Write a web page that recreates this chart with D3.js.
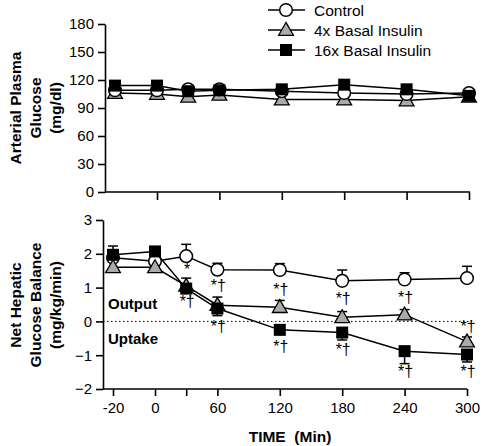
<!DOCTYPE html>
<html><head><meta charset="utf-8">
<script src="https://cdn.jsdelivr.net/npm/d3@7"></script>
<style>body{margin:0;background:#fff}svg{display:block;font-family:"Liberation Sans",Arial,sans-serif}</style>
</head><body><svg id="c" width="482" height="446"></svg>
<script>
const times = [-20, 0, 30, 60, 120, 180, 240, 300];
const seriesNames = ["Control", "4x Basal Insulin", "16x Basal Insulin"];
// Arterial plasma glucose (mg/dl)
const glucoseControl = [109, 109, 110, 110, 108, 106, 105, 106];
const glucose4x      = [106, 105, 102, 104, 99, 99, 98, 102];
const glucose16x     = [114, 114, 108, 109, 110, 115, 110, 103];
// Net hepatic glucose balance (mg/kg/min)
const nhgbControl = [1.88, 1.78, 1.93, 1.53, 1.52, 1.20, 1.24, 1.28];
const nhgb4x      = [1.60, 1.60, 1.05, 0.48, 0.42, 0.12, 0.20, -0.60];
const nhgb16x     = [1.97, 2.07, 0.97, 0.38, -0.25, -0.33, -0.88, -0.98];
// error bars (SEM): control & 4x drawn upward, 16x drawn downward
const semControl = [0.35, 0.0, 0.35, 0.19, 0.19, 0.32, 0.20, 0.35];
const sem4x      = [0.0, 0.0, 0.23, 0.24, 0.20, 0.17, 0.15, 0.14];
const sem16x     = [0.0, 0.0, 0.0, 0.21, 0.05, 0.22, 0.37, 0.22];
const topTicks = [0, 30, 60, 90, 120, 150, 180];
const bottomTicks = [-2, -1, 0, 1, 2, 3];
const xTickValues = [-20, 0, 30, 60, 120, 180, 240, 300];
const xTickLabels = ["-20", "0", "", "60", "120", "180", "240", "300"];
const annotations = [
  {t: 30, v: 1.53, s: "*"}, {t: 30, v: 0.59, s: "*†"},
  {t: 60, v: 1.05, s: "*†"}, {t: 60, v: -0.15, s: "*†"},
  {t: 120, v: 0.94, s: "*†"}, {t: 120, v: -0.74, s: "*†"},
  {t: 180, v: 0.69, s: "*†"}, {t: 180, v: -0.82, s: "*†"},
  {t: 240, v: 0.72, s: "*†"}, {t: 240, v: -1.48, s: "*†"},
  {t: 300, v: -0.15, s: "*†"}, {t: 300, v: -1.48, s: "*†"}
];

const svg = d3.select("#c");
const xTop = d3.scaleLinear().domain([-20, 0, 300]).range([115, 157, 469]);
const xBot = d3.scaleLinear().domain([-20, 0, 300]).range([113, 155, 467]);
const yTop = d3.scaleLinear().domain([0, 180]).range([192, 24]);
const yBot = d3.scaleLinear().domain([-2, 3]).range([389, 220]);

const tickFont = "15px";
function styleAxis(g) {
  g.selectAll("path,line").attr("stroke", "#000").attr("stroke-width", 1.6);
  g.selectAll("text").attr("font-size", tickFont).attr("fill", "#000");
}

// Top panel axes
svg.append("g").attr("transform", "translate(105,0)")
  .call(d3.axisLeft(yTop).tickValues(topTicks).tickSize(7).tickSizeOuter(0).tickPadding(4).tickFormat(d3.format("d")))
  .call(styleAxis);
svg.append("g").attr("transform", "translate(0,192)")
  .call(d3.axisBottom(xTop).tickValues([0, 60, 120, 180, 240, 300]).tickSize(8).tickSizeOuter(0).tickFormat(""))
  .call(styleAxis)
  .select("path.domain").attr("d", "M105,0H470");

// Bottom panel axes
svg.append("g").attr("transform", "translate(103,0)")
  .call(d3.axisLeft(yBot).tickValues(bottomTicks).tickSize(7).tickSizeOuter(0).tickPadding(4).tickFormat(d3.format("d")))
  .call(styleAxis);
const bx = svg.append("g").attr("transform", "translate(0,389)")
  .call(d3.axisBottom(xBot).tickValues(xTickValues).tickSize(7).tickSizeOuter(0).tickPadding(6)
    .tickFormat((d, i) => xTickLabels[i]))
  .call(styleAxis);
bx.select("path.domain").attr("d", "M103,0H467");

// zero dotted line
svg.append("line").attr("x1", xBot(-20) - 10).attr("x2", xBot(300) + 4)
  .attr("y1", yBot(0)).attr("y2", yBot(0))
  .attr("stroke", "#000").attr("stroke-width", 1).attr("stroke-dasharray", "1.5,2.5");

function drawMarker(g, type, x, y) {
  if (type === 0) g.append("circle").attr("cx", x).attr("cy", y).attr("r", 6.3)
    .attr("fill", "#fff").attr("stroke", "#000").attr("stroke-width", 1.5);
  else if (type === 1) g.append("path").attr("d", d3.symbol(d3.symbolTriangle, 95)())
    .attr("transform", `translate(${x},${y + 1})`).attr("fill", "#aaa").attr("stroke", "#000").attr("stroke-width", 1.3);
  else g.append("rect").attr("x", x - 6).attr("y", y - 6).attr("width", 12).attr("height", 12)
    .attr("fill", "#000");
}

function drawSeries(xs, ys, vals, type, errs, dir) {
  const g = svg.append("g");
  const line = d3.line().x((d, i) => xs(times[i])).y(d => ys(d));
  if (errs) {
    vals.forEach((v, i) => {
      if (!errs[i]) return;
      const x = xs(times[i]);
      const e = ys(v + dir * errs[i]);
      g.append("line").attr("x1", x).attr("x2", x).attr("y1", ys(v)).attr("y2", e).attr("stroke", "#000").attr("stroke-width", 1.5);
      g.append("line").attr("x1", x - 5).attr("x2", x + 5).attr("y1", e).attr("y2", e).attr("stroke", "#000").attr("stroke-width", 1.5);
    });
  }
  g.append("path").datum(vals).attr("d", line).attr("fill", "none").attr("stroke", "#000").attr("stroke-width", 1.5);
  vals.forEach((v, i) => drawMarker(g, type, xs(times[i]), ys(v)));
}

// top panel
drawSeries(xTop, yTop, glucose4x, 1);
drawSeries(xTop, yTop, glucoseControl, 0);
drawSeries(xTop, yTop, glucose16x, 2);
// bottom panel
drawSeries(xBot, yBot, nhgbControl, 0, semControl, 1);
drawSeries(xBot, yBot, nhgb4x, 1, sem4x, 1);
drawSeries(xBot, yBot, nhgb16x, 2, sem16x, -1);

// annotations
svg.append("g").style("opacity", 0.999).selectAll("text").data(annotations).join("text")
  .attr("x", d => xBot(d.t) + 1).attr("y", d => yBot(d.v))
  .attr("text-anchor", "middle").attr("dominant-baseline", "central")
  .attr("font-size", "16px").attr("fill", "#000").text(d => d.s);

svg.append("text").attr("x", 108).attr("y", yBot(0.52)).attr("dominant-baseline", "central")
  .attr("font-size", "15px").attr("font-weight", "bold").text("Output");
svg.append("text").attr("x", 108).attr("y", yBot(-0.52)).attr("dominant-baseline", "central")
  .attr("font-size", "15px").attr("font-weight", "bold").text("Uptake");

// legend
const leg = svg.append("g");
seriesNames.forEach((n, i) => {
  const y = 10 + i * 20;
  leg.append("line").attr("x1", 268).attr("x2", 305).attr("y1", y).attr("y2", y).attr("stroke", "#000").attr("stroke-width", 1.5);
  drawMarker(leg, i, 286, y);
  leg.append("text").attr("x", 314).attr("y", y).attr("dominant-baseline", "central")
    .attr("font-size", "15.5px").text(n);
});

// axis titles
function vTitle(lines, cy) {
  lines.forEach((t, i) => {
    svg.append("text").attr("transform", `translate(${15 + i * 20},${cy}) rotate(-90)`)
      .attr("text-anchor", "middle").attr("dominant-baseline", "central")
      .attr("font-size", "15.5px").attr("font-weight", "bold").text(t);
  });
}
vTitle(["Arterial Plasma", "Glucose", "(mg/dl)"], 108);
vTitle(["Net Hepatic", "Glucose Balance", "(mg/kg/min)"], 305);
svg.append("text").attr("x", 290).attr("y", 436).attr("text-anchor", "middle").attr("dominant-baseline", "central")
  .attr("font-size", "15.5px").attr("font-weight", "bold").attr("xml:space", "preserve").text("TIME  (Min)");
</script></body></html>
